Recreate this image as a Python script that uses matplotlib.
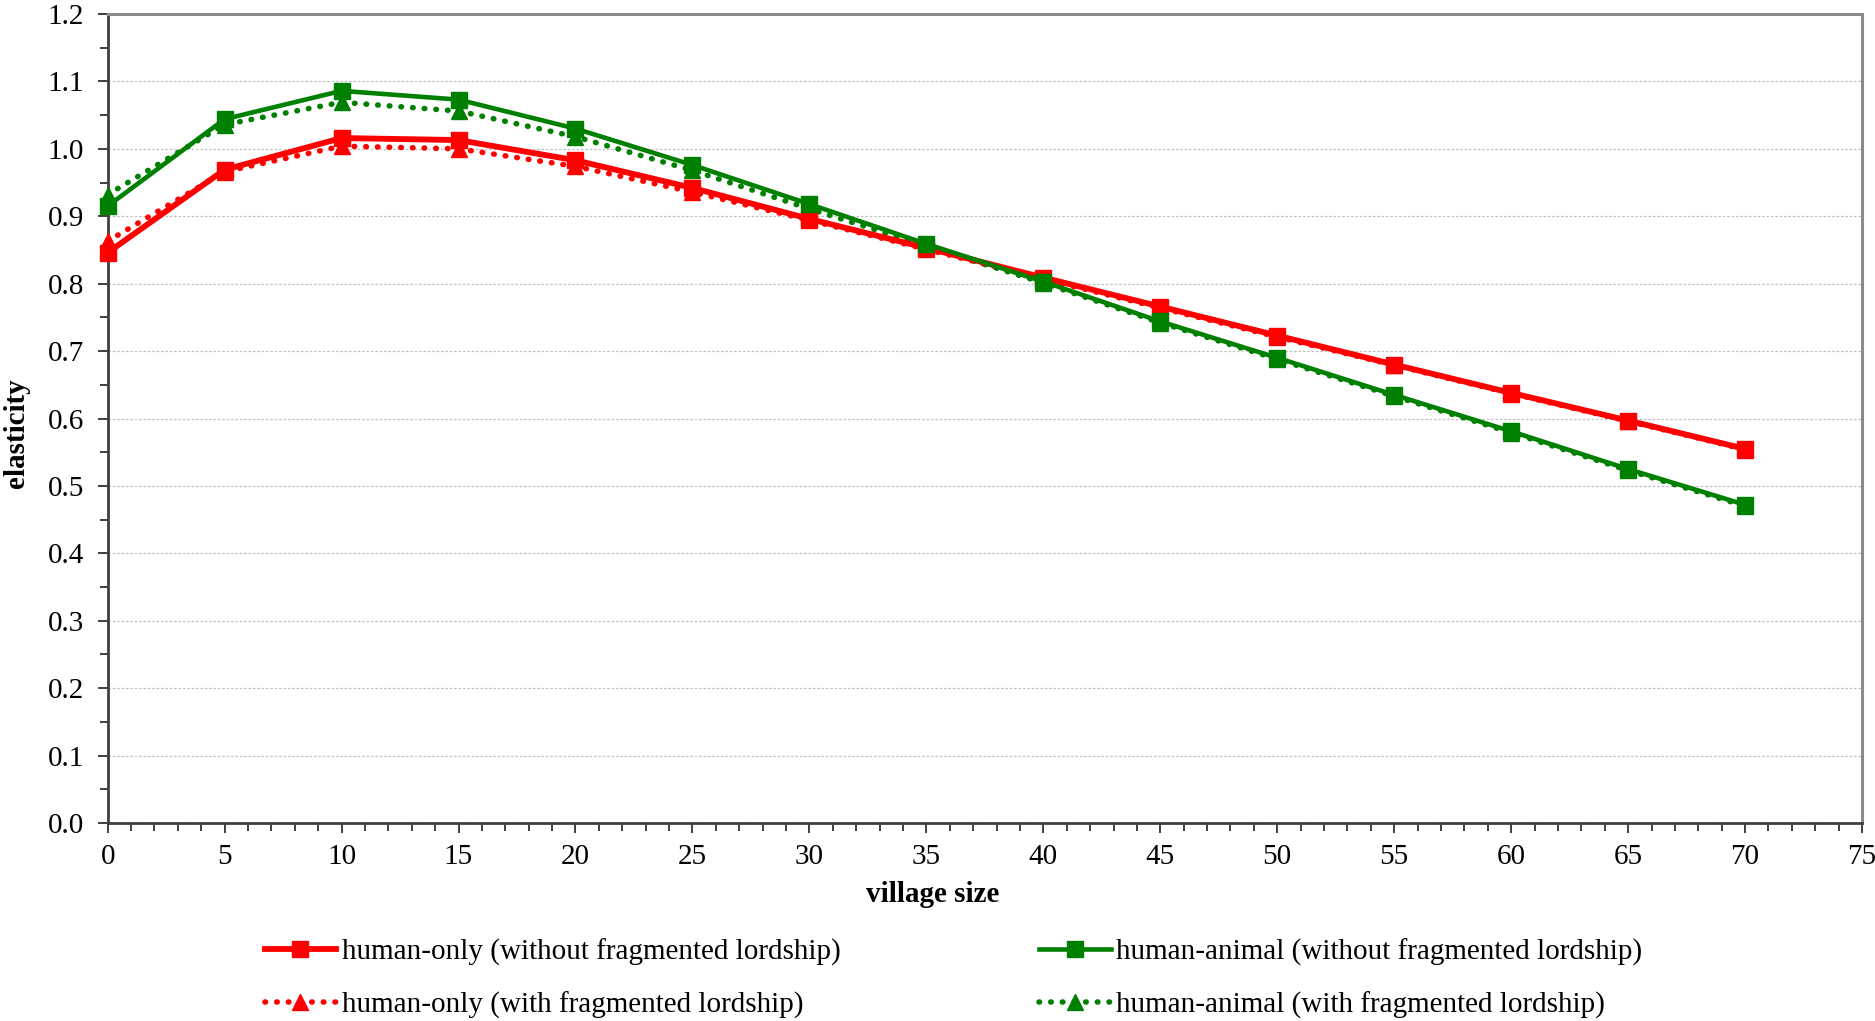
import numpy as np
import matplotlib.pyplot as plt
from matplotlib.ticker import MultipleLocator

village_size = [0, 5, 10, 15, 20, 25, 30, 35, 40, 45, 50, 55, 60, 65, 70]

human_only_without = [0.846, 0.969, 1.016, 1.013, 0.983, 0.942, 0.896, 0.853,
                      0.809, 0.766, 0.723, 0.680, 0.638, 0.597, 0.555]
human_only_with = [0.863, 0.966, 1.004, 1.000, 0.974, 0.936, 0.894, 0.851,
                   0.807, 0.764, 0.721, 0.679, 0.637, 0.596, 0.554]
human_animal_without = [0.915, 1.044, 1.086, 1.073, 1.030, 0.976, 0.918, 0.859,
                        0.803, 0.744, 0.690, 0.635, 0.581, 0.525, 0.472]
human_animal_with = [0.932, 1.036, 1.069, 1.056, 1.018, 0.968, 0.911, 0.856,
                     0.801, 0.742, 0.688, 0.633, 0.579, 0.523, 0.470]

labels = [
    'human-only (without fragmented lordship)',
    'human-only (with fragmented lordship)',
    'human-animal (without fragmented lordship)',
    'human-animal (with fragmented lordship)',
]

red = '#ff0000'
green = '#008000'

plt.rcParams['font.family'] = ['Liberation Serif', 'DejaVu Serif']
plt.rcParams['font.size'] = 21

fig = plt.figure(figsize=(18.75, 10.21), dpi=100)
ax = fig.add_axes([0.0574, 0.1939, 0.9357, 0.7924])

dots = (0, (0.1, 2.0))

# dotted series go underneath the solid ones
h_ro_with, = ax.plot(village_size, human_only_with, color=red, lw=4.0, ls=dots,
                     dash_capstyle='round', marker='^', ms=12, clip_on=False, zorder=3)
h_ha_with, = ax.plot(village_size, human_animal_with, color=green, lw=4.0, ls=dots,
                     dash_capstyle='round', marker='^', ms=12, clip_on=False, zorder=3)
h_ro_without, = ax.plot(village_size, human_only_without, color=red, lw=4.2,
                        marker='s', ms=11.5, clip_on=False, zorder=4)
h_ha_without, = ax.plot(village_size, human_animal_without, color=green, lw=3.3,
                        marker='s', ms=11, clip_on=False, zorder=5)

ax.set_xlim(0, 75)
ax.set_ylim(0, 1.2)
ax.xaxis.set_major_locator(MultipleLocator(5))
ax.xaxis.set_minor_locator(MultipleLocator(1))
ax.yaxis.set_major_locator(MultipleLocator(0.1))
ax.yaxis.set_minor_locator(MultipleLocator(0.05))
ax.yaxis.set_major_formatter(lambda v, p: f'{v:.1f}')

ax.grid(axis='y', which='major', color='#c0c0c0', ls=(0, (2, 1.5)), lw=0.9)
ax.set_axisbelow(True)

ax.tick_params(which='both', direction='out', color='#303030', width=1.3)
ax.tick_params(which='major', length=7)
ax.tick_params(which='minor', length=6)
ax.tick_params(axis='y', pad=10)
ax.tick_params(axis='x', pad=8)

for side in ['left', 'bottom']:
    ax.spines[side].set_color('#404040')
    ax.spines[side].set_linewidth(2)
for side in ['top', 'right']:
    ax.spines[side].set_color('#8c8c8c')
    ax.spines[side].set_linewidth(2.2)

ax.set_xlabel('village size', fontweight='bold')
ax.xaxis.set_label_coords(0.47, -0.072)
ax.set_ylabel('elasticity', fontweight='bold')
ax.yaxis.set_label_coords(-0.044, 0.482)

fig.legend([h_ro_without, h_ro_with, h_ha_without, h_ha_with], labels,
           ncol=2, loc='center', bbox_to_anchor=(0.5086, 0.0415), frameon=False,
           handlelength=2.45, handletextpad=0.2, columnspacing=6.8,
           labelspacing=0.87, borderpad=0.2, fontsize=21)

fig.savefig('out.png', dpi=100)
